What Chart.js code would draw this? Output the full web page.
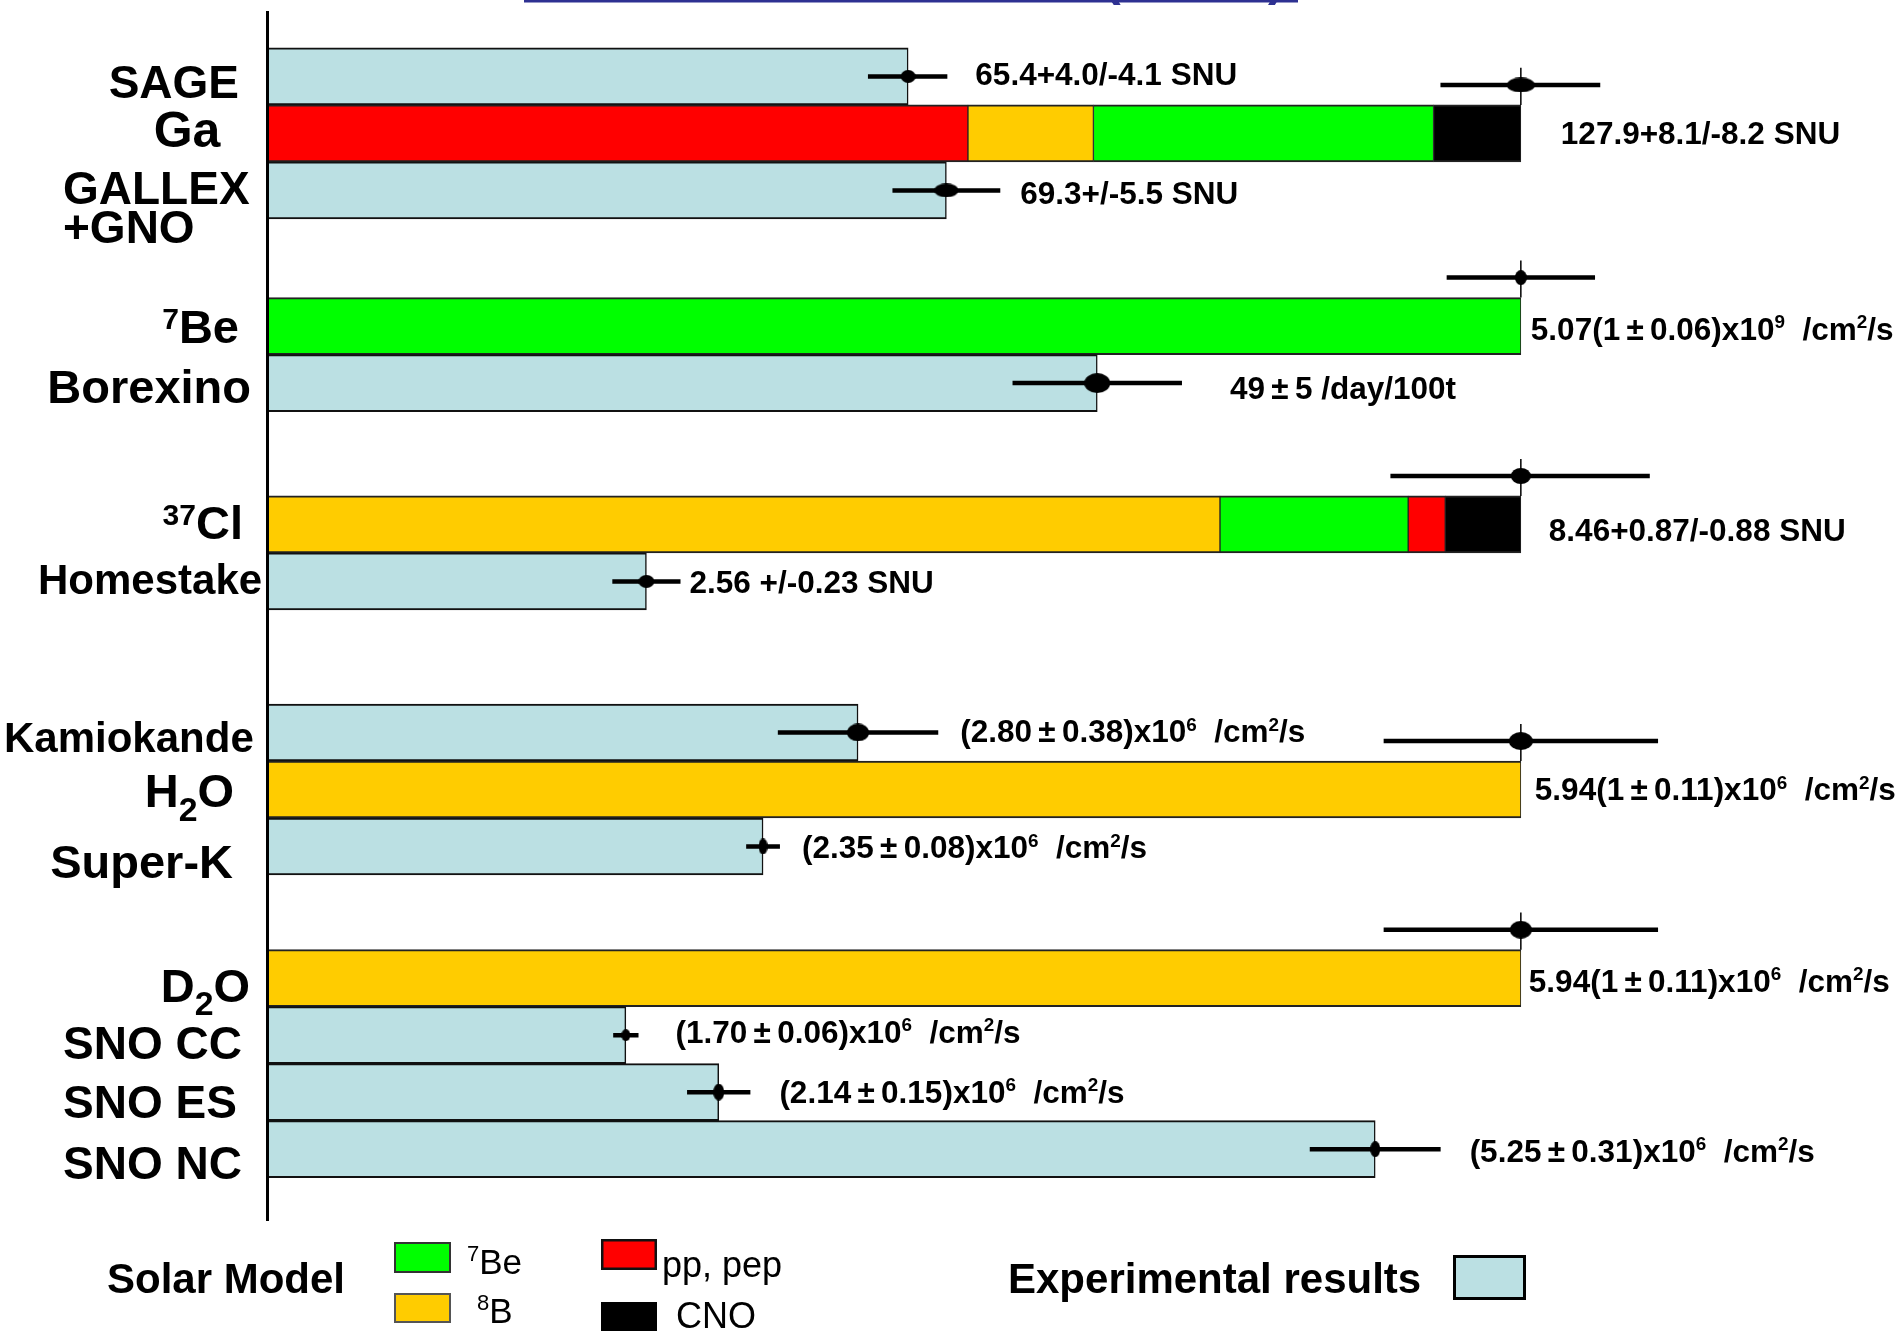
<!DOCTYPE html>
<html>
<head>
<meta charset="utf-8">
<script src="https://cdn.jsdelivr.net/npm/chart.js@4/dist/chart.umd.min.js"></script>
<style>
  html, body { margin: 0; padding: 0; background: #ffffff; }
  #wrap { width: 1902px; height: 1331px; }
</style>
</head>
<body>
<div id="wrap"><canvas id="c" width="1902" height="1331"></canvas></div>
<script>
// Solar neutrino detectors: measured rates against the solar-model prediction.
// Bars are drawn as a fraction of the model prediction for each target.

// ---- Targets with a solar-model prediction ----
const targets = ['Ga', '7Be', '37Cl', 'H2O', 'D2O'];
const targetLabels = ['Ga', '^{7}Be', '^{37}Cl', 'H_{2}O', 'D_{2}O'];
const modelTotal = [127.9, 5.07, 8.46, 5.94, 5.94];
const modelErrPlus = [8.1, 0.30, 0.87, 0.65, 0.65];
const modelErrMinus = [8.2, 0.30, 0.88, 0.65, 0.65];
const modelText = [
  '127.9+8.1/-8.2 SNU',
  '5.07(1\u2009\u00b1\u20090.06)x10^{9}  /cm^{2}/s',
  '8.46+0.87/-0.88 SNU',
  '5.94(1\u2009\u00b1\u20090.11)x10^{6}  /cm^{2}/s',
  '5.94(1\u2009\u00b1\u20090.11)x10^{6}  /cm^{2}/s'
];

// ---- Source contributions to each prediction (same units as modelTotal) ----
const sources = ['pp, pep', '8B', '7Be', 'CNO'];
const ppPep      = [71.5, 0,    0.25, 0,    0];
const boron8     = [12.8, 0,    6.43, 5.94, 5.94];
const beryllium7 = [34.7, 5.07, 1.27, 0,    0];
const cno        = [8.9,  0,    0.51, 0,    0];
const stackOrder = [
  ['pp, pep', '8B', '7Be', 'CNO'],
  ['7Be'],
  ['8B', '7Be', 'pp, pep', 'CNO'],
  ['8B'],
  ['8B']
];

// ---- Experimental results ----
const experiments = ['SAGE', 'GALLEX+GNO', 'Borexino', 'Homestake', 'Kamiokande', 'Super-K', 'SNO CC', 'SNO ES', 'SNO NC'];
const expValue    = [65.4, 69.3, 49, 2.56, 2.80, 2.35, 1.70, 2.14, 5.25];
const expErrPlus  = [4.0, 5.5, 5, 0.23, 0.38, 0.08, 0.06, 0.15, 0.31];
const expErrMinus = [4.1, 5.5, 5, 0.23, 0.38, 0.08, 0.06, 0.15, 0.31];
// Expected rate without oscillation, in the units of each measurement
const expReference = [127.9, 127.9, 74, 8.46, 5.94, 5.94, 5.94, 5.94, 5.94];
const expText = [
  '65.4+4.0/-4.1 SNU',
  '69.3+/-5.5 SNU',
  '49\u2009\u00b1\u20095 /day/100t',
  '2.56 +/-0.23 SNU',
  '(2.80\u2009\u00b1\u20090.38)x10^{6}  /cm^{2}/s',
  '(2.35\u2009\u00b1\u20090.08)x10^{6}  /cm^{2}/s',
  '(1.70\u2009\u00b1\u20090.06)x10^{6}  /cm^{2}/s',
  '(2.14\u2009\u00b1\u20090.15)x10^{6}  /cm^{2}/s',
  '(5.25\u2009\u00b1\u20090.31)x10^{6}  /cm^{2}/s'
];

// ---- Layout ----
const FONT = '"Liberation Sans", Arial, Helvetica, sans-serif';
const ROW_PX = 57;
const groups = [
  ['SAGE', 'Ga', 'GALLEX+GNO'],
  ['7Be', 'Borexino'],
  ['37Cl', 'Homestake'],
  ['Kamiokande', 'H2O', 'Super-K'],
  ['D2O', 'SNO CC', 'SNO ES', 'SNO NC']
];
const groupTop = [1.13, 5.51, 8.99, 12.64, 16.95];
const rowOf = {};
groups.forEach((g, gi) => g.forEach((name, k) => { rowOf[name] = groupTop[gi] + k; }));
const MARK_LIFT = 0.35;   // model marker height above its bar, in rows
const STEM_ABOVE = 0.3;   // stem length above the model marker, in rows

const colors = { 'pp, pep': '#ff0000', '8B': '#ffcc00', '7Be': '#00ff00', 'CNO': '#000000' };
const EXP_FILL = '#bbe0e3';
const contributions = { 'pp, pep': ppPep, '8B': boron8, '7Be': beryllium7, 'CNO': cno };

// Label placement: [x anchor px, align, baseline offset from row centre, font px]
const rowLabelPlace = {
  'SAGE':       [[239, 'right', 22, 46]],
  'Ga':         [[187, 'center', 14, 50]],
  'GALLEX+GNO': [[63, 'left', 14, 46, 'GALLEX'], [63, 'left', 53, 46, '+GNO']],
  '7Be':        [[239, 'right', 17, 47]],
  'Borexino':   [[251, 'right', 20, 47]],
  '37Cl':       [[243, 'right', 15, 47]],
  'Homestake':  [[38, 'left', 13, 42]],
  'Kamiokande': [[4, 'left', 20, 42]],
  'H2O':        [[234, 'right', 18, 47]],
  'Super-K':    [[233, 'right', 32, 47]],
  'D2O':        [[250, 'right', 24, 47]],
  'SNO CC':     [[63, 'left', 24, 46]],
  'SNO ES':     [[63, 'left', 26, 46]],
  'SNO NC':     [[63, 'left', 30, 46]]
};
const expTextGap = [28, 20, 48, 9, 22, 22, 37, 29, 29];
const expTextDy  = [9, 14, 16, 12, 10, 12, 8, 11, 13];
const modelTextGap = [40, 10, 28, 14, 8];
const modelTextDy  = [11, 14, 17, 11, 14];
const expMarkSize = [[15, 13], [24, 14], [26, 20], [16, 13], [22, 18], [9, 16], [9, 12], [11, 17], [10, 16]];
const modelMarkSize = [[28, 15], [12, 15], [20, 16], [24, 18], [22, 18]];

// ---- Chart data built from the arrays above ----
const expBars = experiments.map((e, i) => ({ x: expValue[i] / expReference[i], y: rowOf[e] }));

const segmentData = {};
sources.forEach(s => { segmentData[s] = []; });
targets.forEach((t, i) => {
  let cum = 0;
  stackOrder[i].forEach(s => {
    const v = contributions[s][i];
    segmentData[s].push({ x: [cum / modelTotal[i], (cum + v) / modelTotal[i]], y: rowOf[t] });
    cum += v;
  });
});

const errLines = [];
experiments.forEach((e, i) => {
  const r = expReference[i];
  errLines.push({ x: (expValue[i] - expErrMinus[i]) / r, y: rowOf[e] },
                { x: (expValue[i] + expErrPlus[i]) / r, y: rowOf[e] },
                { x: null, y: null });
});
targets.forEach((t, i) => {
  const y = rowOf[t] - 0.5 - MARK_LIFT;
  errLines.push({ x: (modelTotal[i] - modelErrMinus[i]) / modelTotal[i], y },
                { x: (modelTotal[i] + modelErrPlus[i]) / modelTotal[i], y },
                { x: null, y: null });
});

const stems = [];
targets.forEach((t, i) => {
  const v = modelTotal[i] / modelTotal[i];
  stems.push({ x: v, y: rowOf[t] - 0.5 - MARK_LIFT - STEM_ABOVE }, { x: v, y: rowOf[t] - 0.5 }, { x: null, y: null });
});

const markers = experiments.map((e, i) => ({ x: expValue[i] / expReference[i], y: rowOf[e] }))
  .concat(targets.map((t, i) => ({ x: modelTotal[i] / modelTotal[i], y: rowOf[t] - 0.5 - MARK_LIFT })));

function ellipseCanvas(w, h) {
  const c = document.createElement('canvas');
  c.width = w; c.height = h;
  const g = c.getContext('2d');
  g.fillStyle = '#000';
  g.beginPath();
  g.ellipse(w / 2, h / 2, w / 2, h / 2, 0, 0, Math.PI * 2);
  g.fill();
  return c;
}
const markerImages = expMarkSize.concat(modelMarkSize).map(([w, h]) => ellipseCanvas(w, h));

// ---- Rich text helper (^{..} superscript, _{..} subscript) ----
function segmentsOf(spec) {
  const out = [];
  const re = /\^\{([^}]*)\}|_\{([^}]*)\}|([^^_]+)/g;
  let m;
  while ((m = re.exec(spec))) {
    if (m[1] !== undefined) out.push({ t: m[1], k: 'sup' });
    else if (m[2] !== undefined) out.push({ t: m[2], k: 'sub' });
    else out.push({ t: m[3], k: 'n' });
  }
  return out;
}
function drawRich(ctx, spec, x, y, o) {
  const size = o.size, weight = o.weight || 'bold';
  const supScale = o.supScale || 0.62, subScale = o.subScale || 0.72;
  const segs = segmentsOf(spec).map(s => {
    const sz = s.k === 'n' ? size : size * (s.k === 'sup' ? supScale : subScale);
    ctx.font = `${weight} ${sz}px ${FONT}`;
    return Object.assign({}, s, { sz, w: ctx.measureText(s.t).width });
  });
  const total = segs.reduce((a, s) => a + s.w, 0);
  let cx = o.align === 'right' ? x - total : (o.align === 'center' ? x - total / 2 : x);
  ctx.fillStyle = o.color || '#000';
  ctx.textAlign = 'left';
  ctx.textBaseline = 'alphabetic';
  segs.forEach(s => {
    ctx.font = `${weight} ${s.sz}px ${FONT}`;
    const dy = s.k === 'sup' ? -size * (o.supRaise || 0.36) : (s.k === 'sub' ? size * (o.subDrop || 0.27) : 0);
    ctx.fillText(s.t, cx, y + dy);
    cx += s.w;
  });
}

// ---- Text, legend and heading rule ----
const annotations = {
  id: 'annotations',
  afterDraw(chart) {
    const ctx = chart.ctx;
    const xs = chart.scales.x, ys = chart.scales.y;
    ctx.save();

    // heading rule (title sits above the visible area)
    ctx.strokeStyle = '#2e3192';
    ctx.lineWidth = 2.5;
    ctx.beginPath(); ctx.moveTo(524, 1.2); ctx.lineTo(1298, 1.2); ctx.stroke();
    ctx.fillStyle = '#2e3192';
    ctx.font = `bold 50px ${FONT}`;
    ctx.textBaseline = 'alphabetic';
    ctx.fillText('(', 1104, -5);
    ctx.fillText(')', 1268, -5);

    // row names
    const rowName = {};
    experiments.forEach(e => { rowName[e] = e; });
    targets.forEach((t, i) => { rowName[t] = targetLabels[i]; });
    Object.keys(rowLabelPlace).forEach(key => {
      const yc = ys.getPixelForValue(rowOf[key]);
      rowLabelPlace[key].forEach(p => {
        const text = p[4] || rowName[key];
        drawRich(ctx, text, p[0], yc + p[2], { size: p[3], align: p[1], supScale: 0.64, supRaise: 0.3, subScale: 0.72, subDrop: 0.28 });
      });
    });

    // value texts
    experiments.forEach((e, i) => {
      const x = xs.getPixelForValue((expValue[i] + expErrPlus[i]) / expReference[i]) + expTextGap[i];
      const y = ys.getPixelForValue(rowOf[e]) + expTextDy[i];
      drawRich(ctx, expText[i], x, y, { size: 31.5, align: 'left', supScale: 0.6, supRaise: 0.38 });
    });
    targets.forEach((t, i) => {
      const x = xs.getPixelForValue(modelTotal[i] / modelTotal[i]) + modelTextGap[i];
      const y = ys.getPixelForValue(rowOf[t]) + modelTextDy[i];
      drawRich(ctx, modelText[i], x, y, { size: 31.5, align: 'left', supScale: 0.6, supRaise: 0.38 });
    });

    // legend
    drawRich(ctx, 'Solar Model', 107, 1293, { size: 42 });
    const box = (x, y, w, h, fill, stroke, lw) => {
      ctx.fillStyle = fill; ctx.fillRect(x, y, w, h);
      if (stroke) { ctx.strokeStyle = stroke; ctx.lineWidth = lw; ctx.strokeRect(x + lw / 2, y + lw / 2, w - lw, h - lw); }
    };
    box(394, 1242, 57, 31, colors['7Be'], '#333', 2);
    box(394, 1293, 57, 30, colors['8B'], '#555', 2);
    box(601, 1239, 56, 31, colors['pp, pep'], '#111', 2.5);
    box(601, 1302, 56, 31, colors['CNO'], null, 0);
    drawRich(ctx, '^{7}Be', 467, 1274, { size: 35, weight: 'normal', supScale: 0.63, supRaise: 0.36 });
    drawRich(ctx, '^{8}B', 477, 1323, { size: 35, weight: 'normal', supScale: 0.63, supRaise: 0.36 });
    drawRich(ctx, sources[0], 662, 1277, { size: 36, weight: 'normal' });
    drawRich(ctx, sources[3], 676, 1328, { size: 36, weight: 'normal' });
    drawRich(ctx, 'Experimental results', 1008, 1293, { size: 42 });
    box(1453, 1255, 73, 45, EXP_FILL, '#000', 3);

    ctx.restore();
  }
};

const barCommon = {
  type: 'bar',
  indexAxis: 'y',
  grouped: false,
  barPercentage: 1,
  categoryPercentage: 1,
  borderSkipped: false,
  order: 10
};

const datasets = [
  Object.assign({}, barCommon, {
    label: 'Experimental results',
    data: expBars,
    backgroundColor: EXP_FILL,
    borderColor: '#111',
    borderWidth: { top: 2, right: 1.5, bottom: 2, left: 0 }
  })
].concat(sources.map(s => Object.assign({}, barCommon, {
  label: s,
  data: segmentData[s],
  backgroundColor: colors[s],
  borderColor: '#222',
  borderWidth: { top: 2, right: 1, bottom: 2, left: 1 }
}))).concat([
  {
    type: 'scatter', label: 'errors', indexAxis: 'x', data: errLines, showLine: true, spanGaps: false,
    borderColor: '#000', borderWidth: 4.5, pointRadius: 0, pointHoverRadius: 0, order: 2
  },
  {
    type: 'scatter', label: 'stems', indexAxis: 'x', data: stems, showLine: true, spanGaps: false,
    borderColor: '#000', borderWidth: 1.5, pointRadius: 0, pointHoverRadius: 0, order: 3
  },
  {
    type: 'scatter', label: 'central values', indexAxis: 'x', data: markers, showLine: false,
    pointRadius: 4, pointHoverRadius: 4, pointStyle: ctx => markerImages[ctx.dataIndex], order: 1
  }
]);

new Chart(document.getElementById('c'), {
  type: 'bar',
  data: { datasets },
  options: {
    responsive: false,
    devicePixelRatio: 1,
    animation: false,
    indexAxis: 'y',
    layout: { padding: { top: 12, bottom: 111, left: 0, right: 3.5 } },
    plugins: { legend: { display: false }, tooltip: { enabled: false }, title: { display: false } },
    scales: {
      x: {
        type: 'linear', min: 0, max: 1.3, offset: false, display: false
      },
      y: {
        type: 'linear', min: 0, max: 1208 / ROW_PX, reverse: true, offset: false,
        grid: { display: false, offset: false },
        ticks: { display: false },
        border: { display: true, color: '#000', width: 3, z: 1 },
        afterBuildTicks: s => { s.ticks = []; },
        afterFit: s => { s.width = 267; }
      }
    }
  },
  plugins: [annotations]
});
</script>
</body>
</html>
